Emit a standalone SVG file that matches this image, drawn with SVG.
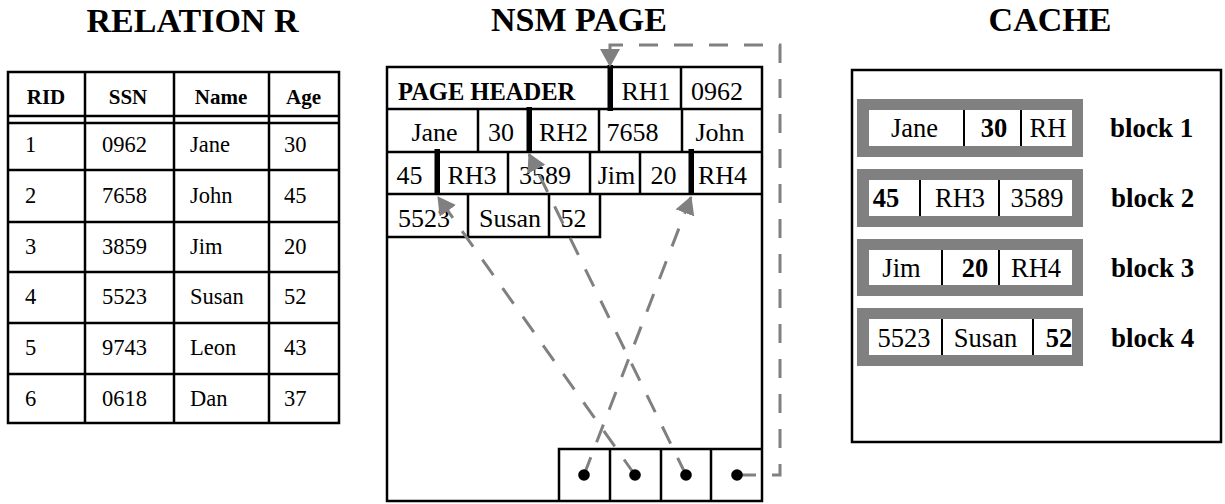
<svg xmlns="http://www.w3.org/2000/svg" width="1225" height="504" viewBox="0 0 1225 504">
<style>
.t{font-family:"Liberation Serif","Times New Roman",serif;fill:#000}
.title{font-size:34px;font-weight:bold;text-anchor:middle}
.th{font-size:21px;font-weight:bold;text-anchor:middle}
.td{font-size:22.5px}
.nsm{font-size:26px;text-anchor:middle}
.nsmb{font-size:24.5px;font-weight:bold}
.cv{font-size:26.5px;text-anchor:middle}
.cb{font-size:26.5px;font-weight:bold;text-anchor:middle}
.bl{font-size:27px;font-weight:bold}
.ln{stroke:#000;stroke-width:2.5;fill:none}
.thin{stroke:#000;stroke-width:2;fill:none}
.bar{fill:#000}
.dash{stroke:#808080;stroke-width:3;fill:none;stroke-dasharray:19 16}
.blk{fill:#808080}
.inner{fill:#fff}
</style>
<defs>
<marker id="ah" viewBox="0 0 18 20" refX="17" refY="10" markerWidth="18" markerHeight="20" markerUnits="userSpaceOnUse" orient="auto">
<path d="M0,0 L18,10 L0,20 z" fill="#808080"/>
</marker>
</defs>
<rect width="1225" height="504" fill="#fff"/>

<g id="titles">
<text class="t title" x="192.5" y="32">RELATION R</text>
<text class="t title" x="579" y="31">NSM PAGE</text>
<text class="t title" x="1050" y="31">CACHE</text>
</g>

<g id="relation-r">
<rect class="ln" x="8" y="72" width="331" height="351"/>
<line class="ln" x1="8" y1="116" x2="339" y2="116"/>
<line class="ln" x1="8" y1="123" x2="339" y2="123"/>
<line class="ln" x1="8" y1="170" x2="339" y2="170"/>
<line class="ln" x1="8" y1="222" x2="339" y2="222"/>
<line class="ln" x1="8" y1="272" x2="339" y2="272"/>
<line class="ln" x1="8" y1="323" x2="339" y2="323"/>
<line class="ln" x1="8" y1="374" x2="339" y2="374"/>
<line class="ln" x1="85" y1="72" x2="85" y2="423"/>
<line class="ln" x1="174" y1="72" x2="174" y2="423"/>
<line class="ln" x1="269" y1="72" x2="269" y2="423"/>
<text class="t th" x="46" y="104">RID</text>
<text class="t th" x="128" y="104">SSN</text>
<text class="t th" x="221" y="104">Name</text>
<text class="t th" x="303.5" y="104">Age</text>
<g class="t td">
<text x="25" y="152">1</text><text x="102" y="152">0962</text><text x="190" y="152">Jane</text><text x="284" y="152">30</text>
<text x="25" y="203">2</text><text x="102" y="203">7658</text><text x="190" y="203">John</text><text x="284" y="203">45</text>
<text x="25" y="254">3</text><text x="102" y="254">3859</text><text x="190" y="254">Jim</text><text x="284" y="254">20</text>
<text x="25" y="304">4</text><text x="102" y="304">5523</text><text x="190" y="304">Susan</text><text x="284" y="304">52</text>
<text x="25" y="355">5</text><text x="102" y="355">9743</text><text x="190" y="355">Leon</text><text x="284" y="355">43</text>
<text x="25" y="406">6</text><text x="102" y="406">0618</text><text x="190" y="406">Dan</text><text x="284" y="406">37</text>
</g>
</g>

<g id="nsm-page">
<rect class="ln" x="387" y="67" width="375" height="434"/>
<line class="ln" x1="387" y1="109" x2="762" y2="109"/>
<line class="ln" x1="387" y1="152" x2="762" y2="152"/>
<line class="ln" x1="387" y1="194" x2="762" y2="194"/>
<polyline class="ln" points="387,237 600,237 600,194"/>
<line class="ln" x1="681" y1="67" x2="681" y2="109"/>
<line class="ln" x1="478" y1="109" x2="478" y2="152"/>
<line class="ln" x1="599" y1="109" x2="599" y2="152"/>
<line class="ln" x1="682" y1="109" x2="682" y2="152"/>
<line class="ln" x1="508" y1="152" x2="508" y2="194"/>
<line class="ln" x1="590" y1="152" x2="590" y2="194"/>
<line class="ln" x1="640" y1="152" x2="640" y2="194"/>
<line class="ln" x1="468" y1="194" x2="468" y2="237"/>
<line class="ln" x1="549" y1="194" x2="549" y2="237"/>
<rect class="bar" x="607.5" y="65" width="5.5" height="46"/>
<rect class="bar" x="526.5" y="107" width="5.5" height="46"/>
<rect class="bar" x="434.5" y="149" width="5.5" height="46"/>
<rect class="bar" x="688.5" y="149" width="5.5" height="46"/>
<text class="t nsmb" x="398" y="100">PAGE HEADER</text>
<g class="t nsm">
<text x="646" y="100">RH1</text><text x="717" y="100">0962</text>
<text x="434.5" y="141">Jane</text><text x="501" y="141">30</text><text x="563.5" y="141">RH2</text><text x="632.5" y="141">7658</text><text x="720" y="141">John</text>
<text x="409.5" y="184">45</text><text x="472" y="184">RH3</text><text x="545" y="184">3589</text><text x="616.5" y="184">Jim</text><text x="663.5" y="184">20</text><text x="722.5" y="184">RH4</text>
<text x="424" y="227">5523</text><text x="510" y="227">Susan</text><text x="573.5" y="227">52</text>
</g>
<polyline class="ln" points="559,501 559,449 762,449"/>
<line class="ln" x1="610" y1="449" x2="610" y2="501"/>
<line class="ln" x1="661" y1="449" x2="661" y2="501"/>
<line class="ln" x1="711" y1="449" x2="711" y2="501"/>
</g>

<g id="connectors">
<path class="dash" d="M584,475 L691,197" marker-end="url(#ah)"/>
<path class="dash" d="M635,475 L438,197" marker-end="url(#ah)"/>
<path class="dash" d="M686,475 L529,154" marker-end="url(#ah)"/>
<path class="dash" d="M737,475 H780 V45 H610 V66" marker-end="url(#ah)"/>
</g>

<g id="slot-dots">
<circle cx="584" cy="475" r="5.8" fill="#000"/>
<circle cx="635" cy="475" r="5.8" fill="#000"/>
<circle cx="686" cy="475" r="5.8" fill="#000"/>
<circle cx="737" cy="475" r="5.8" fill="#000"/>
</g>

<g id="cache">
<rect class="ln" x="852" y="70" width="369" height="372"/>
</g>

<g id="block1">
<rect class="blk" x="857" y="99" width="226" height="58"/>
<rect class="inner" x="869" y="110" width="203" height="36"/>
<line class="thin" x1="964" y1="110" x2="964" y2="146"/>
<line class="thin" x1="1021" y1="110" x2="1021" y2="146"/>
<text class="t cv" x="914.5" y="137">Jane</text>
<text class="t cb" x="994" y="137">30</text>
<text class="t cv" x="1048" y="137">RH</text>
<text class="t bl" x="1110" y="137">block 1</text>
</g>
<g id="block2">
<rect class="blk" x="857" y="169" width="226" height="58"/>
<rect class="inner" x="869" y="180" width="203" height="36"/>
<line class="thin" x1="920" y1="180" x2="920" y2="216"/>
<line class="thin" x1="999" y1="180" x2="999" y2="216"/>
<text class="t cb" x="886" y="207">45</text>
<text class="t cv" x="960" y="207">RH3</text>
<text class="t cv" x="1037" y="207">3589</text>
<text class="t bl" x="1111" y="207">block 2</text>
</g>
<g id="block3">
<rect class="blk" x="857" y="239" width="226" height="57"/>
<rect class="inner" x="869" y="250" width="203" height="35"/>
<line class="thin" x1="942" y1="250" x2="942" y2="285"/>
<line class="thin" x1="999" y1="250" x2="999" y2="285"/>
<text class="t cv" x="901.5" y="277">Jim</text>
<text class="t cb" x="975" y="277">20</text>
<text class="t cv" x="1036" y="277">RH4</text>
<text class="t bl" x="1111" y="277">block 3</text>
</g>
<g id="block4">
<rect class="blk" x="857" y="308" width="226" height="58"/>
<rect class="inner" x="869" y="319" width="203" height="36"/>
<line class="thin" x1="942" y1="319" x2="942" y2="355"/>
<line class="thin" x1="1033" y1="319" x2="1033" y2="355"/>
<text class="t cv" x="904" y="347">5523</text>
<text class="t cv" x="985.5" y="347">Susan</text>
<text class="t cb" x="1059" y="347">52</text>
<text class="t bl" x="1111" y="347">block 4</text>
</g>
</svg>
